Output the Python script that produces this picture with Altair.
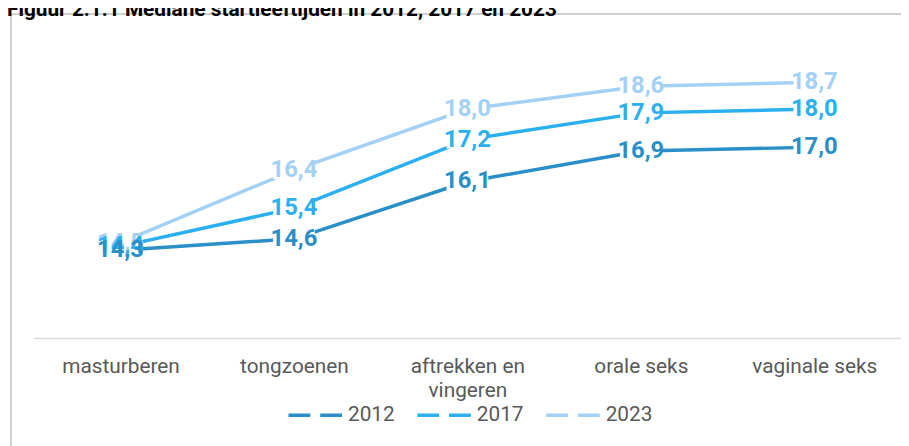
import altair as alt
import pandas as pd

categories = ["masturberen", "tongzoenen", "aftrekken en vingeren", "orale seks", "vaginale seks"]
years = ["2012", "2017", "2023"]
v2012 = [14.3, 14.6, 16.1, 16.9, 17.0]
v2017 = [14.4, 15.4, 17.2, 17.9, 18.0]
v2023 = [14.5, 16.4, 18.0, 18.6, 18.7]
colors = ["#2A8FC8", "#2AB0F0", "#A3D0F5"]
title_text = "Figuur 2.1.1 Mediane startleeftijden in 2012, 2017 en 2023"

rows = []
for yr, vals in zip(years, [v2012, v2017, v2023]):
    for c, v in zip(categories, vals):
        rows.append({"cat": c, "jaar": yr, "waarde": v})
df = pd.DataFrame(rows)

FONT = "Roboto"

x_enc = alt.X(
    "cat:N",
    sort=categories,
    scale=alt.Scale(type="point", padding=0.5),
    axis=alt.Axis(
        title=None,
        domainColor="#d9d9d9",
        domainWidth=1.5,
        ticks=False,
        labelAngle=0,
        labelFont=FONT,
        labelFontSize=21,
        labelColor="#595959",
        labelPadding=18,
        labelLineHeight=24,
        labelExpr="datum.label == 'aftrekken en vingeren' ? ['aftrekken en', 'vingeren'] : datum.label",
    ),
)
y_enc = alt.Y("waarde:Q", scale=alt.Scale(domain=[12, 20], nice=False, zero=False), axis=None)

base = alt.Chart(df)

lines = base.mark_line(strokeWidth=3.5).encode(
    x=x_enc,
    y=y_enc,
    stroke=alt.Stroke(
        "jaar:N",
        scale=alt.Scale(domain=years, range=colors),
        legend=alt.Legend(
            title=None,
            orient="none",
            direction="horizontal",
            legendX=255,
            legendY=357,
            symbolType="stroke",
            symbolSize=2916,
            symbolStrokeWidth=3.5,
            symbolDash=[22, 10],
            labelFont=FONT,
            labelFontSize=21,
            labelColor="#595959",
            labelOffset=4,
            columnPadding=15,
            padding=0,
        ),
    ),
    order=alt.Order("cat_order:Q"),
).transform_calculate(
    cat_order="indexof(" + str(categories) + ", datum.cat)"
)

label_expr = "replace(format(datum.waarde, '.1f'), '.', ',')"

label_bg = base.mark_rect(width=42, height=18, fill="white", stroke=None).encode(
    x=x_enc, y=y_enc
)

texts = base.mark_text(font=FONT, fontSize=24, fontWeight="bold").encode(
    x=x_enc,
    y=y_enc,
    text="lbl:N",
    fill=alt.Fill("jaar:N", scale=alt.Scale(domain=years, range=colors), legend=None),
    order=alt.Order("jaar:N", sort="descending"),
).transform_calculate(lbl=label_expr)

one = alt.Data(values=[{"a": 1}])
title = alt.Chart(one).mark_text(
    text=title_text, font=FONT, fontSize=21, fontWeight="bold", color="#000000",
    align="left", baseline="alphabetic"
).encode(x=alt.value(-27), y=alt.value(-17))

# frame around the figure (decoration, pixel positions relative to plot area)
frame = pd.DataFrame({"fx": [-23, -23], "fy": [-19, -19], "fx2": [880, -23], "fy2": [-19, 420]})
border = alt.Chart(frame).mark_rule(color="#d0d0d0", strokeWidth=2).encode(
    x=alt.X("fx:Q", scale=None, axis=None),
    x2="fx2:Q",
    y=alt.Y("fy:Q", scale=None, axis=None),
    y2="fy2:Q",
)

main = alt.layer(lines, label_bg, texts, title)

chart = alt.layer(border, main).resolve_scale(
    x="independent", y="independent"
).properties(
    width=875,
    height=308,
    autosize=alt.AutoSizeParams(type="none"),
    padding={"left": 26, "top": 23, "right": 0, "bottom": 107},
).configure_view(stroke=None)

chart.save("out.html", embed_options={"renderer": "svg", "actions": False})
